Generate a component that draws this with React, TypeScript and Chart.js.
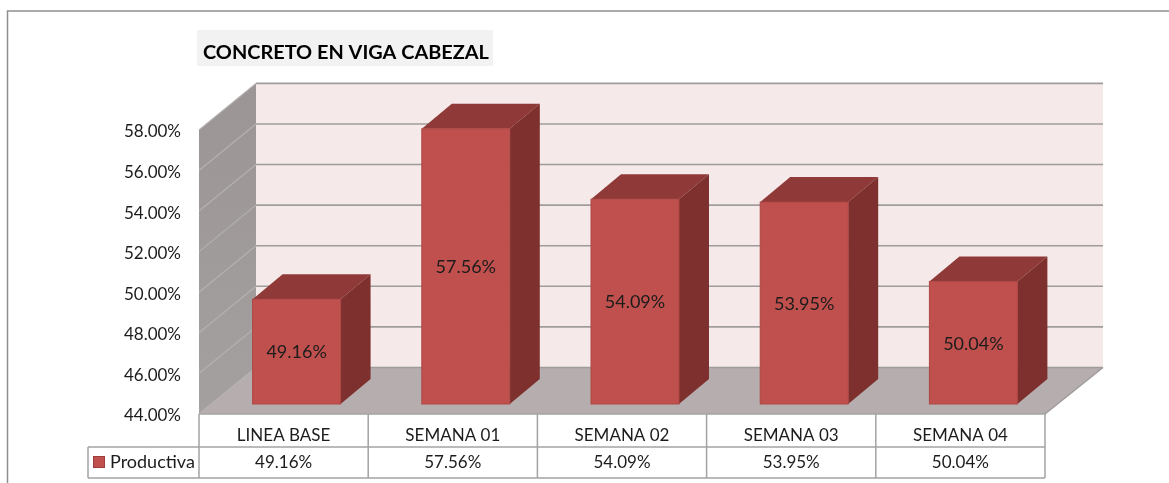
import React, { useEffect, useRef } from "react";
import { Chart, registerables } from "chart.js";

Chart.register(...registerables);

const titleText = "CONCRETO EN VIGA CABEZAL";
const categories = ["LINEA BASE", "SEMANA 01", "SEMANA 02", "SEMANA 03", "SEMANA 04"];
const seriesName = "Productiva";
const productiva = [49.16, 57.56, 54.09, 53.95, 50.04];
const FONT = "Lato, Carlito, 'Open Sans', sans-serif";
const fmt = (v: number) => v.toFixed(2) + "%";

const WALL = { dx: 57, dy: -46.5 };
const BAR_SHIFT = { dx: 13, dy: -10 };
const BAR_DEPTH = { dx: 30, dy: -25 };
const LEGEND_LEFT = 88;
const TABLE_BOTTOM = 478;
const ROW_SPLIT = 447;
const TEXT = "#1c1c1c";
const LINE = "#a3a3a3";

function poly(ctx: CanvasRenderingContext2D, pts: number[][], fill: string | CanvasGradient) {
  ctx.beginPath();
  pts.forEach(([x, y], i) => (i ? ctx.lineTo(x, y) : ctx.moveTo(x, y)));
  ctx.closePath();
  ctx.fillStyle = fill;
  ctx.fill();
}

function seg(ctx: CanvasRenderingContext2D, x1: number, y1: number, x2: number, y2: number) {
  ctx.beginPath();
  ctx.moveTo(x1, y1);
  ctx.lineTo(x2, y2);
  ctx.stroke();
}

const scene3d = {
  id: "scene3d",
  afterLayout(chart: any) {
    chart.titleBlock.left += 4;
  },
  beforeDraw(chart: any) {
    const { ctx, width, height } = chart;
    ctx.save();
    ctx.strokeStyle = "#8f8f8f";
    ctx.lineWidth = 1.5;
    ctx.beginPath();
    ctx.moveTo(7.5, height);
    ctx.lineTo(7.5, 11);
    ctx.lineTo(width, 11);
    ctx.stroke();
    ctx.fillStyle = "#f2f2f2";
    ctx.fillRect(197, 30, 296, 36);
    ctx.restore();
  },
  beforeDatasetsDraw(chart: any) {
    const { ctx, chartArea: a, scales } = chart;
    const y = scales.y;
    const { dx, dy } = WALL;
    ctx.save();
    poly(ctx, [[a.left + dx, a.top + dy], [a.right + dx + 1, a.top + dy], [a.right + dx + 1, a.bottom + dy], [a.left + dx, a.bottom + dy]], "#f5e9e9");
    const g = ctx.createLinearGradient(0, a.top + dy, 0, a.bottom);
    g.addColorStop(0, "#9b9595");
    g.addColorStop(1, "#a5a0a0");
    poly(ctx, [[a.left, a.top], [a.left + dx, a.top + dy], [a.left + dx, a.bottom + dy], [a.left, a.bottom]], g);
    poly(ctx, [[a.left, a.bottom], [a.right, a.bottom], [a.right + dx + 1, a.bottom + dy], [a.left + dx, a.bottom + dy]], "#b6aeae");
    y.ticks.forEach((t: any) => {
      const p = y.getPixelForValue(t.value);
      ctx.lineWidth = 1.2;
      ctx.strokeStyle = "#b5b1b1";
      seg(ctx, a.left, p, a.left + dx, p + dy);
      ctx.lineWidth = 1.6;
      ctx.strokeStyle = "#a09c9c";
      seg(ctx, a.left + dx, p + dy, a.right + dx + 1, p + dy);
    });
    ctx.lineWidth = 1.5;
    ctx.strokeStyle = "#a09c9c";
    seg(ctx, a.right, a.bottom, a.right + dx + 1, a.bottom + dy);
    chart.getDatasetMeta(0).data.forEach((b: any) => {
      const l = b.x - b.width / 2 + BAR_SHIFT.dx;
      const r = b.x + b.width / 2 + BAR_SHIFT.dx;
      const t = b.y + BAR_SHIFT.dy;
      const bt = b.base + BAR_SHIFT.dy;
      const d = BAR_DEPTH;
      poly(ctx, [[l, t], [r, t], [r + d.dx, t + d.dy], [l + d.dx, t + d.dy]], "#8f3a38");
      poly(ctx, [[r, t], [r + d.dx, t + d.dy], [r + d.dx, bt + d.dy], [r, bt]], "#7d302e");
    });
    ctx.restore();
    ctx.save();
    ctx.translate(BAR_SHIFT.dx, BAR_SHIFT.dy);
  },
  afterDatasetsDraw(chart: any) {
    const { ctx, chartArea: a } = chart;
    ctx.restore();
    ctx.save();
    const meta = chart.getDatasetMeta(0).data;
    ctx.strokeStyle = "#ad4744";
    ctx.lineWidth = 1;
    meta.forEach((b: any) => {
      ctx.strokeRect(b.x - b.width / 2 + BAR_SHIFT.dx, b.y + BAR_SHIFT.dy, b.width, b.base - b.y);
    });
    ctx.font = `18px ${FONT}`;
    ctx.fillStyle = TEXT;
    ctx.textAlign = "center";
    ctx.textBaseline = "middle";
    meta.forEach((b: any, i: number) => {
      ctx.fillText(fmt(productiva[i]), b.x + BAR_SHIFT.dx, (b.y + b.base) / 2 + BAR_SHIFT.dy + 1);
    });
    // data table
    ctx.font = `17px ${FONT}`;
    ctx.strokeStyle = LINE;
    ctx.lineWidth = 1.5;
    const cell = (a.right - a.left) / categories.length;
    seg(ctx, a.left, a.bottom, a.right, a.bottom);
    seg(ctx, LEGEND_LEFT, ROW_SPLIT, a.right, ROW_SPLIT);
    seg(ctx, LEGEND_LEFT, TABLE_BOTTOM, a.right, TABLE_BOTTOM);
    seg(ctx, LEGEND_LEFT, ROW_SPLIT, LEGEND_LEFT, TABLE_BOTTOM);
    categories.forEach((_, i) => seg(ctx, a.left + i * cell, a.bottom, a.left + i * cell, TABLE_BOTTOM));
    seg(ctx, a.right, a.bottom, a.right, TABLE_BOTTOM);
    const rowY = (ROW_SPLIT + TABLE_BOTTOM) / 2 + 0.5;
    meta.forEach((b: any, i: number) => ctx.fillText(fmt(productiva[i]), b.x, rowY));
    ctx.fillStyle = "#c0504d";
    ctx.strokeStyle = "#9c3f3c";
    ctx.lineWidth = 1;
    ctx.fillRect(93.5, 456.5, 11, 11);
    ctx.strokeRect(93.5, 456.5, 11, 11);
    ctx.font = `18px ${FONT}`;
    ctx.fillStyle = TEXT;
    ctx.textAlign = "left";
    ctx.fillText(seriesName, 110, rowY - 1);
    ctx.restore();
  },
};

export default function App() {
  const ref = useRef<HTMLCanvasElement>(null);
  useEffect(() => {
    if (!ref.current) return;
    const chart = new Chart(ref.current, {
      type: "bar",
      data: {
        labels: categories,
        datasets: [
          {
            label: seriesName,
            data: productiva,
            base: 44,
            backgroundColor: "#c0504d",
            borderWidth: 0,
            barPercentage: 0.52,
            categoryPercentage: 1,
          },
        ],
      },
      options: {
        animation: false,
        responsive: false,
        layout: { padding: { right: 124 } },
        plugins: {
          legend: { display: false },
          tooltip: { enabled: false },
          title: {
            display: true,
            text: titleText,
            align: "start",
            fullSize: false,
            color: "#000000",
            font: { family: FONT, size: 19.9, weight: "bold", lineHeight: 1.2 },
            padding: { top: 41, bottom: 65 },
          },
        },
        scales: {
          x: {
            grid: { display: false },
            border: { display: false },
            ticks: { color: TEXT, font: { family: FONT, size: 17 }, padding: 3, maxRotation: 0 },
            afterFit: (s: any) => {
              s.height = 69;
            },
          },
          y: {
            min: 44,
            max: 58,
            grid: { display: false },
            border: { display: false },
            ticks: {
              stepSize: 2,
              color: TEXT,
              font: { family: FONT, size: 17 },
              padding: 10,
              labelOffset: 2,
              callback: (v: any) => fmt(Number(v)),
            },
            afterFit: (s: any) => {
              s.width = 199;
            },
          },
        },
      },
      plugins: [scene3d],
    } as any);
    return () => chart.destroy();
  }, []);
  return (
    <div style={{ position: "absolute", left: 0, top: 0, width: 1169, height: 483, background: "#fff" }}>
      <canvas ref={ref} width={1169} height={483} style={{ display: "block" }} />
    </div>
  );
}
